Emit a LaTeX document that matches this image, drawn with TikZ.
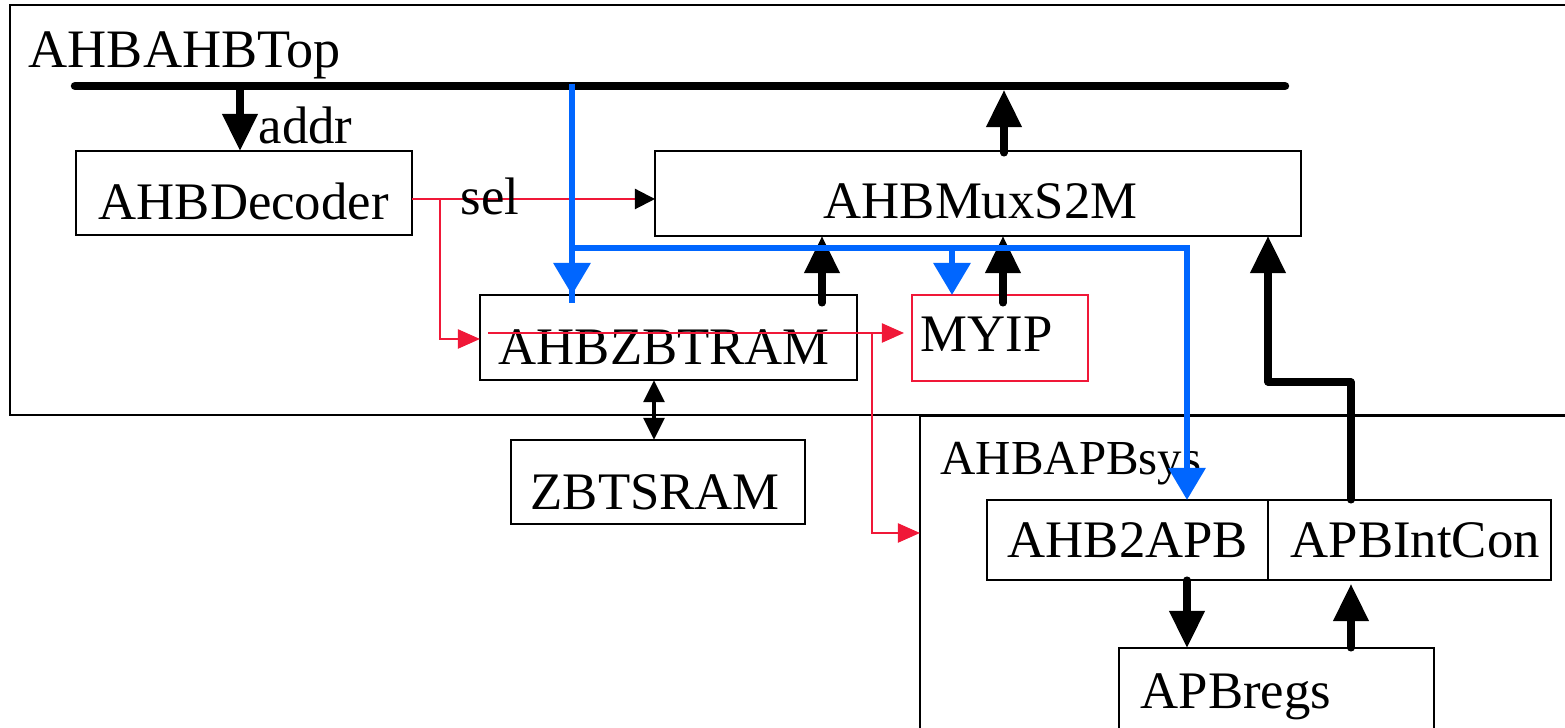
\documentclass[tikz,border=0pt]{standalone}
\usepackage{fontspec}
\setmainfont{Liberation Serif}
\usetikzlibrary{arrows.meta,fit}
\definecolor{bl}{RGB}{0,102,255}
\definecolor{rd}{RGB}{240,24,56}
\begin{document}
\begin{tikzpicture}[x=0.01cm,y=-0.01cm,
  box/.style={draw,line width=0.6pt,inner sep=0,outer sep=0},
  txt/.style={anchor=base west,inner sep=0,font=\fontsize{15}{15}\selectfont},
  bus/.style={line width=2.4pt,line cap=round},
  big/.style={line width=2pt,line cap=round,-{Triangle[width=0.34cm,length=0.37cm]}},
  blu/.style={draw=bl,line width=1.8pt,-{Triangle[width=0.36cm,length=0.32cm]}},
  redarr/.style={draw=rd,line width=0.6pt,-{Triangle[width=0.19cm,length=0.22cm]}},
]
\clip (0,0) rectangle (1565,728);
\fill[white] (0,0) rectangle (1565,728);
% containers
\node[box,fit={(10,5)(1600,415)}] (top) {};
\node[txt,font=\fontsize{15.4}{15.4}\selectfont] (topT) at (28,68) {AHBAHBTop};
\node[box,fit={(920,416)(1600,760)}] (sys) {};
\node[txt,font=\fontsize{13.9}{13.9}\selectfont] (sysT) at (940,475) {AHBAPBsys};
% blocks
\node[box,fit={(76,151)(412,235)}] (dec) {};
\node[txt] (decT) at (98,220) {AHBDecoder};
\node[box,fit={(655,151)(1301,236)}] (mux) {};
\node[txt] (muxT) at (823,219) {AHBMuxS2M};
\node[box,fit={(480,295)(857,380)}] (zbt) {};
\node[txt] (zbtT) at (498,365) {AHBZBTRAM};
\node[box,draw=rd,fit={(912,295)(1088,381)}] (myip) {};
\node[txt] (myipT) at (920,352) {MYIP};
\node[box,fit={(511,440)(805,524)}] (sram) {};
\node[txt] (sramT) at (530,510) {ZBTSRAM};
\node[box,fit={(987,500)(1268,580)}] (a2a) {};
\node[txt] (a2aT) at (1007,558) {AHB2APB};
\node[box,fit={(1268,500)(1551,580)}] (ic) {};
\node[txt] (icT) at (1290,558) {APBIntCon};
\node[box,fit={(1119,648)(1434,760)}] (regs) {};
\node[txt] (regsT) at (1140,709) {APBregs};
% bus
\coordinate (busL) at (75,86);
\coordinate (busR) at (1285,86);
\coordinate (busB) at (0,90);
\draw[bus] (busL) -- (busR);
% addr
\coordinate (xa) at (240,0);
\draw[big] (xa |- busL) -- (xa |- dec.north);
\node[txt] (addr) at (258,144) {addr};
% mux to bus
\coordinate (xm) at (1004,0);
\draw[big] ([yshift=-0.02cm]xm |- mux.north) -- (xm |- busB);
% sel
\coordinate (ys) at (0,199);
\draw[draw=rd,line width=0.6pt,-{Triangle[color=black,width=0.2cm,length=0.2cm]}] (dec.east |- ys) -- (mux.west |- ys);
\node[txt] (selT) at (460,215) {sel};
\coordinate (sb) at (440,199);
\coordinate (yz) at (0,339);
\draw[redarr] (sb) -- (sb |- yz) -- (zbt.west |- yz);
% red through zbtram
\coordinate (rz) at (488,333);
\coordinate (rb) at (872,333);
\coordinate (yr) at (0,533);
\draw[redarr] (rz) -- ([xshift=-0.08cm]myip.west |- rz);
\draw[redarr] (rb) -- (rb |- yr) -- (sys.west |- yr);
% up arrows to mux
\coordinate (x1) at (822,0);
\coordinate (x2) at (1003,0);
\draw[big] ([yshift=-0.08cm]x1 |- zbt.north) -- (x1 |- mux.south);
\draw[big] ([yshift=-0.08cm]x2 |- myip.north) -- (x2 |- mux.south);
% blue
\coordinate (bt) at (572,84);
\coordinate (yb) at (0,248);
\coordinate (bm) at (952,248);
\coordinate (bx) at (1187,248);
\draw[draw=bl,line width=1.8pt] (bt) -- ([yshift=-0.08cm]bt |- zbt.north);
\draw[blu] (bt) -- (bt |- zbt.north);
\draw[blu] (bt |- yb) -- (bx) -- (bx |- a2a.north);
\draw[blu] (bm) -- (bm |- myip.north);
% ZBTRAM <-> ZBTSRAM
\coordinate (xd) at (654,0);
\draw[line width=1.4pt,{Triangle[width=0.2cm,length=0.22cm]}-{Triangle[width=0.2cm,length=0.22cm]}] (xd |- zbt.south) -- (xd |- sram.north);
% APB side
\coordinate (xr) at (1187,0);
\coordinate (xi) at (1351,0);
\draw[big] (xr |- a2a.south) -- (xr |- regs.north);
\draw[big] (xi |- regs.north) -- ([yshift=-0.04cm]xi |- ic.south);
\coordinate (yk) at (0,382);
\coordinate (xk) at (1268,0);
\draw[big,line cap=round,line join=round] (xi |- ic.north) -- (xi |- yk) -- (xk |- yk) -- (xk |- mux.south);
\end{tikzpicture}
\end{document}
